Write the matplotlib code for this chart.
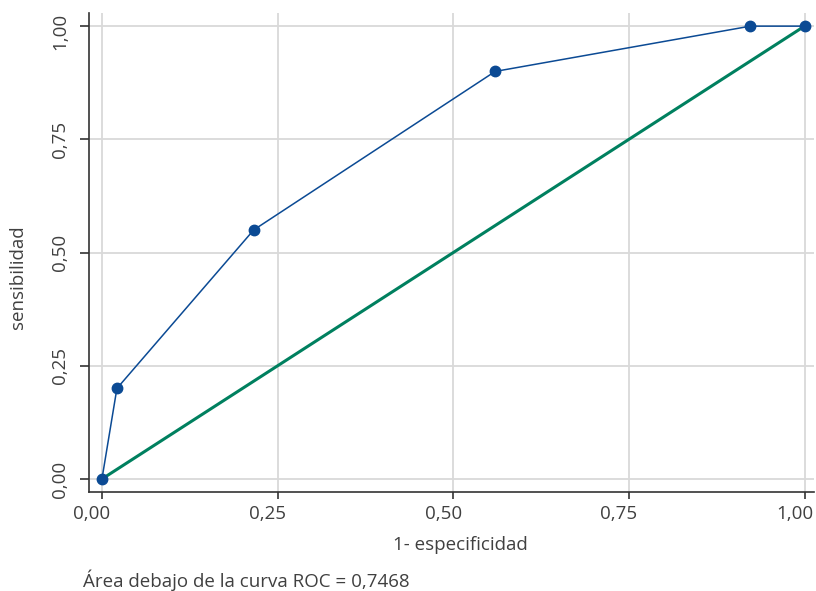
#!/usr/bin/env python3
import matplotlib
matplotlib.use("Agg")
import matplotlib.pyplot as plt
import matplotlib.transforms as mtransforms
from matplotlib.ticker import FuncFormatter

# ROC points
fpr = [0.0, 0.0213, 0.216, 0.5597, 0.923, 1.0]
sens = [0.0, 0.20, 0.55, 0.90, 1.0, 1.0]
ref_line = [0.0, 1.0]
ticks = [0.0, 0.25, 0.50, 0.75, 1.0]
auc_text = "Área debajo de la curva ROC = 0,7468"

plt.rcParams['font.family'] = ['Open Sans', 'DejaVu Sans']
text_color = "#404040"

fig = plt.figure(figsize=(8.16, 5.91), dpi=100)
ax = fig.add_axes([0.109, 0.1675, 0.889, 0.8105])

ax.plot(fpr, sens, color="#0b4a94", lw=1.1, marker="o", markersize=7.5, zorder=3)
ax.plot(ref_line, ref_line, color="#00805f", lw=2.2, zorder=2)

ax.set_xlim(-0.0185, 1.014)
ax.set_ylim(-0.0287, 1.029)
ax.set_xticks(ticks)
ax.set_yticks(ticks)
fmt = FuncFormatter(lambda v, p: "{:.2f}".format(v).replace(".", ","))
ax.xaxis.set_major_formatter(fmt)
ax.yaxis.set_major_formatter(fmt)
ax.grid(True, color="#d9d9d9", lw=1.3)
ax.set_axisbelow(True)

for s in ["top", "right"]:
    ax.spines[s].set_visible(False)
for s in ["left", "bottom"]:
    ax.spines[s].set_color("#333333")
    ax.spines[s].set_linewidth(1.2)

ax.tick_params(axis="both", width=1.2, color="#333333",
               labelsize=13.5, labelcolor=text_color)
ax.tick_params(axis="x", length=5, pad=4)
ax.tick_params(axis="y", length=6.5, pad=7.5)
for lab in ax.get_yticklabels():
    lab.set_rotation(90)
    lab.set_va("center")

# x tick labels sit a little left of their ticks in the original
shift = mtransforms.ScaledTranslation(-0.10, 0, fig.dpi_scale_trans)
for lab in ax.get_xticklabels():
    lab.set_transform(lab.get_transform() + shift)
# top y label is nudged down to stay inside the figure
ylabs = ax.get_yticklabels()
ylabs[-1].set_transform(ylabs[-1].get_transform()
                        + mtransforms.ScaledTranslation(0, -0.05, fig.dpi_scale_trans))

ax.set_xlabel("1- especificidad", fontsize=13.5, color=text_color)
ax.set_ylabel("sensibilidad", fontsize=13.5, color=text_color)
ax.xaxis.label.set_va("center")
ax.yaxis.label.set_va("center")
ax.xaxis.set_label_coords(0.512, -0.111)
ax.yaxis.set_label_coords(-0.098, 0.449)

fig.text(0.102, 0.018, auc_text, fontsize=13.5, color=text_color, ha="left", va="center")

fig.savefig("out.png", dpi=100)
